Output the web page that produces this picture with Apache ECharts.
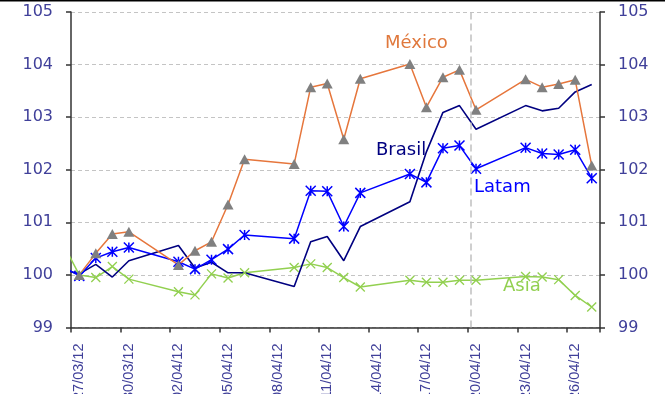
<!DOCTYPE html>
<html>
<head>
<meta charset="utf-8">
<script src="https://cdn.jsdelivr.net/npm/echarts@6/dist/echarts.min.js"></script>
<style>html,body{margin:0;padding:0;background:#fff}#c{width:670px;height:394px}</style>
</head>
<body>
<div id="c"></div>
<script>
// ---- data ----
var dates = ['2012-03-26','2012-03-27','2012-03-28','2012-03-29','2012-03-30',
  '2012-04-02','2012-04-03','2012-04-04','2012-04-05','2012-04-06',
  '2012-04-09','2012-04-10','2012-04-11','2012-04-12','2012-04-13',
  '2012-04-16','2012-04-17','2012-04-18','2012-04-19','2012-04-20',
  '2012-04-23','2012-04-24','2012-04-25','2012-04-26','2012-04-27'];
var mexico = [null,100.0,100.41,100.78,100.82,100.19,100.46,100.63,101.34,102.2,
  102.11,103.57,103.64,102.58,103.73,104.01,103.19,103.76,103.9,103.14,
  103.72,103.57,103.63,103.71,102.08];
var brasil = [100.1,100.02,100.2,99.96,100.27,100.56,100.13,100.24,100.04,100.04,
  99.78,100.63,100.73,100.27,100.92,101.39,102.34,103.09,103.22,102.77,
  103.22,103.12,103.17,103.48,103.62];
var latam = [100.16,99.98,100.32,100.44,100.52,100.25,100.11,100.29,100.49,100.76,
  100.69,101.6,101.59,100.92,101.56,101.92,101.76,102.41,102.46,102.02,
  102.42,102.31,102.29,102.38,101.84];
var asia = [100.6,100.0,99.95,100.16,99.92,99.68,99.62,100.02,99.94,100.04,
  100.14,100.21,100.14,99.95,99.77,99.9,99.86,99.86,99.9,99.9,
  99.97,99.96,99.91,99.61,99.39];
var tickLabels = ['27/03/12','30/03/12','02/04/12','05/04/12','08/04/12','11/04/12',
  '14/04/12','17/04/12','20/04/12','23/04/12','26/04/12'];
var axisStart = '2012-03-27';
var axisDays = 32;
var markerDay = 24.2;

// ---- helpers ----
function dayOffset(s){
  var a = s.split('-'), b = axisStart.split('-');
  return (Date.UTC(+a[0], a[1]-1, +a[2]) - Date.UTC(+b[0], b[1]-1, +b[2])) / 86400000;
}
function pairs(vals){
  var out = [];
  for (var i = 0; i < dates.length; i++) {
    if (vals[i] != null) out.push([dayOffset(dates[i]) + 0.5, vals[i]]);
  }
  return out;
}
var cats = [];
for (var i = 0; i < axisDays; i++) cats.push(i % 3 === 0 ? (tickLabels[i/3] || '') : '');

var labelColor = '#40409a';
var yLab = {fontFamily:'DejaVu Sans', fontSize:16, color:labelColor};

var chart = echarts.init(document.getElementById('c'), null, {renderer:'canvas'});
chart.setOption({
  animation:false,
  backgroundColor:'#ffffff',
  grid:{left:71, right:70, top:12, bottom:66.5, containLabel:false, outerBoundsMode:'none'},
  xAxis:[{
    type:'value', min:0, max:axisDays, interval:3,
    axisLine:{show:true, lineStyle:{color:'#333333', width:1.5}},
    axisTick:{show:true, inside:false, length:5, lineStyle:{color:'#333333', width:1.5}},
    axisLabel:{show:false}, splitLine:{show:false}
  },{
    type:'category', data:cats, boundaryGap:true, position:'bottom',
    axisLine:{show:false}, axisTick:{show:false}, splitLine:{show:false},
    axisLabel:{show:true, interval:0, rotate:90, margin:16,
      fontFamily:'Liberation Sans', fontSize:14.5, color:labelColor}
  }],
  yAxis:[{
    type:'value', min:99, max:105, interval:1, position:'left',
    axisLine:{show:true, lineStyle:{color:'#333333', width:1.5}},
    axisTick:{show:true, inside:false, length:5, lineStyle:{color:'#333333', width:1.5}},
    axisLabel:Object.assign({margin:18}, yLab),
    splitLine:{show:true, lineStyle:{color:'#c4c4c4', type:[4,3], width:1.2}}
  },{
    type:'value', min:99, max:105, interval:1, position:'right',
    axisLine:{show:true, lineStyle:{color:'#333333', width:1.5}},
    axisTick:{show:true, inside:false, length:5, lineStyle:{color:'#333333', width:1.5}},
    axisLabel:Object.assign({margin:18}, yLab),
    splitLine:{show:false}
  }],
  series:[{
    name:'Asia', type:'line', data:pairs(asia), xAxisIndex:0, yAxisIndex:0,
    lineStyle:{color:'#92d050', width:1.5}, clip:true,
    symbol:'path://M0,0L10,10M10,0L0,10', symbolSize:9,
    itemStyle:{color:'rgba(0,0,0,0)', borderColor:'#92d050', borderWidth:1.3},
    markLine:{silent:true, symbol:'none', label:{show:false},
      lineStyle:{color:'#c0c0c0', type:[7,4], width:1.5},
      data:[{xAxis:markerDay}]}
  },{
    name:'Brasil', type:'line', data:pairs(brasil), xAxisIndex:0, yAxisIndex:0,
    lineStyle:{color:'#000080', width:1.6}, showSymbol:false, symbol:'none', clip:true
  },{
    name:'Latam', type:'line', data:pairs(latam), xAxisIndex:0, yAxisIndex:0,
    lineStyle:{color:'#0000ff', width:1.5}, clip:true,
    symbol:'path://M0,0L10,10M10,0L0,10M5,0L5,10', symbolSize:10,
    itemStyle:{color:'rgba(0,0,0,0)', borderColor:'#0000ff', borderWidth:1.5}
  },{
    name:'México', type:'line', data:pairs(mexico), xAxisIndex:0, yAxisIndex:0,
    lineStyle:{color:'#e6763c', width:1.5}, clip:true,
    symbol:'triangle', symbolSize:[11,10],
    itemStyle:{color:'#808080', borderWidth:0}
  }],
  graphic:[
    {type:'line', shape:{x1:0, y1:0.75, x2:665, y2:0.75}, style:{stroke:'#000', lineWidth:1.5}, silent:true},
    {type:'text', left:385, top:34, style:{text:'México', fill:'#e0783c', font:'18px "DejaVu Sans"'}},
    {type:'text', left:376, top:141, style:{text:'Brasil', fill:'#000080', font:'18px "DejaVu Sans"'}},
    {type:'text', left:474, top:178, style:{text:'Latam', fill:'#0000ff', font:'18px "DejaVu Sans"'}},
    {type:'text', left:503, top:277, style:{text:'Asia', fill:'#92d050', font:'18px "DejaVu Sans"'}}
  ]
});
</script>
</body>
</html>
